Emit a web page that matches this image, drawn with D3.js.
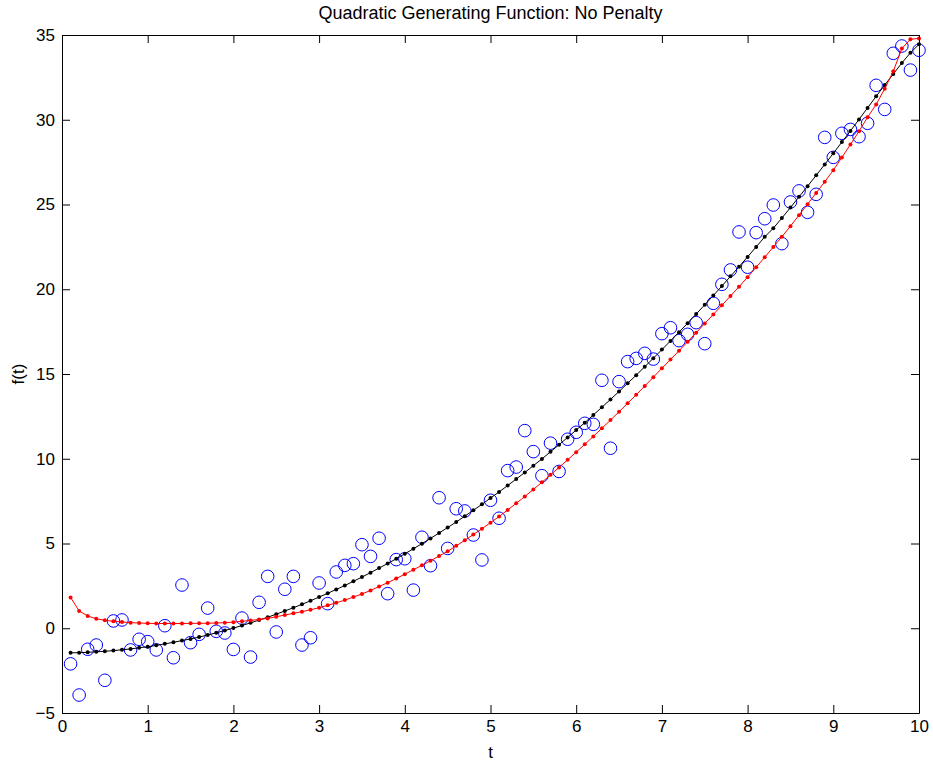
<!DOCTYPE html>
<html lang="en">
<head>
<meta charset="utf-8">
<script src="https://d3js.org/d3.v7.min.js"></script>
<style>
  body { margin: 0; background: #fff; }
  svg text { font-family: "Liberation Sans", Arial, sans-serif; fill: #000; }
</style>
</head>
<body>
<script>
// sample grid t
const tValues = [0.1,0.2,0.3,0.4,0.5,0.6,0.7,0.8,0.9,1.0,
  1.1,1.2,1.3,1.4,1.5,1.6,1.7,1.8,1.9,2.0,
  2.1,2.2,2.3,2.4,2.5,2.6,2.7,2.8,2.9,3.0,
  3.1,3.2,3.3,3.4,3.5,3.6,3.7,3.8,3.9,4.0,
  4.1,4.2,4.3,4.4,4.5,4.6,4.7,4.8,4.9,5.0,
  5.1,5.2,5.3,5.4,5.5,5.6,5.7,5.8,5.9,6.0,
  6.1,6.2,6.3,6.4,6.5,6.6,6.7,6.8,6.9,7.0,
  7.1,7.2,7.3,7.4,7.5,7.6,7.7,7.8,7.9,8.0,
  8.1,8.2,8.3,8.4,8.5,8.6,8.7,8.8,8.9,9.0,
  9.1,9.2,9.3,9.4,9.5,9.6,9.7,9.8,9.9,10.0];

// noisy observations (blue circles)
const observed = [-2.10,-3.94,-1.24,-0.99,-3.07,0.43,0.49,-1.28,-0.65,-0.79,
  -1.28,0.15,-1.74,2.55,-0.85,-0.36,1.19,-0.18,-0.28,-1.25,
  0.60,-1.70,1.53,3.06,-0.22,2.30,3.06,-0.99,-0.56,2.67,
  1.45,3.32,3.71,3.81,4.93,4.24,5.31,2.04,4.05,4.10,
  2.25,5.37,3.69,7.70,4.71,7.05,6.92,5.50,4.03,7.55,
  6.49,9.30,9.51,11.66,10.42,9.00,10.92,9.25,11.15,11.56,
  12.09,12.03,14.63,10.62,14.55,15.73,15.92,16.22,15.88,17.38,
  17.73,16.97,17.34,18.03,16.79,19.17,20.29,21.14,23.38,21.30,
  23.34,24.16,24.97,22.69,25.15,25.80,24.54,25.60,28.96,27.78,
  29.20,29.43,29.00,29.79,32.03,30.61,33.92,34.35,32.93,34.10];

// generating function (black)
const trueCurve = [-1.45,-1.44,-1.42,-1.39,-1.36,-1.32,-1.27,-1.22,-1.15,-1.09,
  -1.01,-0.92,-0.83,-0.73,-0.63,-0.52,-0.40,-0.27,-0.13,0.01,
  0.16,0.32,0.48,0.65,0.83,1.02,1.21,1.41,1.62,1.84,
  2.06,2.29,2.52,2.77,3.02,3.28,3.55,3.82,4.10,4.39,
  4.69,4.99,5.30,5.62,5.94,6.27,6.61,6.96,7.31,7.68,
  8.04,8.42,8.80,9.19,9.59,9.99,10.41,10.83,11.26,11.69,
  12.13,12.58,13.04,13.50,13.97,14.45,14.93,15.43,15.93,16.44,
  16.95,17.47,18.00,18.54,19.08,19.63,20.19,20.76,21.33,21.91,
  22.50,23.09,23.60,24.20,24.82,25.45,26.08,26.72,27.36,28.02,
  28.68,29.34,30.02,30.70,31.38,32.05,32.70,33.35,33.95,34.45];

// unpenalized fit (red)
const fitCurve = [1.82,1.02,0.72,0.56,0.47,0.41,0.37,0.33,0.31,0.29,
  0.28,0.28,0.28,0.28,0.29,0.29,0.30,0.31,0.33,0.36,
  0.41,0.46,0.52,0.58,0.68,0.78,0.88,0.98,1.09,1.21,
  1.35,1.50,1.66,1.84,2.02,2.23,2.46,2.69,2.93,3.19,
  3.45,3.71,3.98,4.26,4.54,4.86,5.19,5.53,5.87,6.23,
  6.59,6.98,7.37,7.77,8.19,8.61,9.05,9.49,9.94,10.39,
  10.85,11.32,11.80,12.28,12.77,13.27,13.77,14.29,14.81,15.34,
  15.85,16.37,16.90,17.44,17.98,18.51,19.05,19.60,20.15,20.71,
  21.30,21.89,22.49,23.10,23.72,24.37,25.02,25.68,26.34,27.02,
  27.78,28.54,29.32,30.15,30.90,31.83,32.86,34.20,34.75,34.80];

const xTicks = [0,1,2,3,4,5,6,7,8,9,10];
const yTicks = [-5,0,5,10,15,20,25,30,35];

var width = 933, height = 763;
var m = { left: 62, right: 919, top: 35, bottom: 713 };
var tickLen = 8;
var fontSize = 17;

var svg = d3.select("body").append("svg")
  .attr("width", width)
  .attr("height", height);

var x = d3.scaleLinear().domain([0, 10]).range([m.left, m.right]);
var y = d3.scaleLinear().domain([-5, 35]).range([m.bottom, m.top]);

var plot = svg.append("g");

// blue circles
plot.selectAll("circle.obs")
  .data(tValues.map((t, i) => [t, observed[i]]))
  .enter().append("circle")
  .attr("class", "obs")
  .attr("cx", d => x(d[0]))
  .attr("cy", d => y(d[1]))
  .attr("r", 6.3)
  .attr("fill", "none")
  .attr("stroke", "#0000ff")
  .attr("stroke-width", 1);

var line = d3.line().x(d => x(d[0])).y(d => y(d[1]));

function drawCurve(values, color) {
  var pts = tValues.map((t, i) => [t, values[i]]);
  plot.append("path")
    .datum(pts)
    .attr("d", line)
    .attr("fill", "none")
    .attr("stroke", color)
    .attr("stroke-width", 1);
  plot.append("g").selectAll("circle")
    .data(pts)
    .enter().append("circle")
    .attr("cx", d => x(d[0]))
    .attr("cy", d => y(d[1]))
    .attr("r", 2)
    .attr("fill", color);
}

drawCurve(trueCurve, "#000000");
drawCurve(fitCurve, "#ff0000");

// axes box, ticks inside like matlab
var axisBottom = d3.axisBottom(x).tickValues(xTicks).tickSizeInner(-tickLen).tickSizeOuter(0).tickPadding(7);
var axisTop = d3.axisTop(x).tickValues(xTicks).tickSizeInner(-tickLen).tickSizeOuter(0).tickFormat("");
var axisLeft = d3.axisLeft(y).tickValues(yTicks).tickSizeInner(-tickLen).tickSizeOuter(0).tickPadding(7)
  .tickFormat(d => d < 0 ? "\u2212" + Math.abs(d) : d);
var axisRight = d3.axisRight(y).tickValues(yTicks).tickSizeInner(-tickLen).tickSizeOuter(0).tickFormat("");

function styleAxis(g) {
  g.select(".domain").attr("stroke", "#000").attr("stroke-width", 1);
  g.selectAll(".tick line").attr("stroke", "#000");
  g.selectAll("text").attr("font-size", fontSize).attr("font-family", "Liberation Sans, Arial, sans-serif");
}

svg.append("g").attr("transform", "translate(0," + m.bottom + ")").call(axisBottom).call(styleAxis);
svg.append("g").attr("transform", "translate(0," + m.top + ")").call(axisTop).call(styleAxis);
svg.append("g").attr("transform", "translate(" + m.left + ",0)").call(axisLeft).call(styleAxis);
svg.append("g").attr("transform", "translate(" + m.right + ",0)").call(axisRight).call(styleAxis);

// titles
svg.append("text")
  .attr("x", (m.left + m.right) / 2)
  .attr("y", 19)
  .attr("text-anchor", "middle")
  .attr("font-size", 18)
  .text("Quadratic Generating Function: No Penalty");

svg.append("text")
  .attr("x", (m.left + m.right) / 2)
  .attr("y", 758)
  .attr("text-anchor", "middle")
  .attr("font-size", fontSize)
  .text("t");

svg.append("text")
  .attr("transform", "translate(24," + ((m.top + m.bottom) / 2) + ") rotate(-90)")
  .attr("text-anchor", "middle")
  .attr("font-size", fontSize)
  .text("f(t)");
</script>
</body>
</html>
